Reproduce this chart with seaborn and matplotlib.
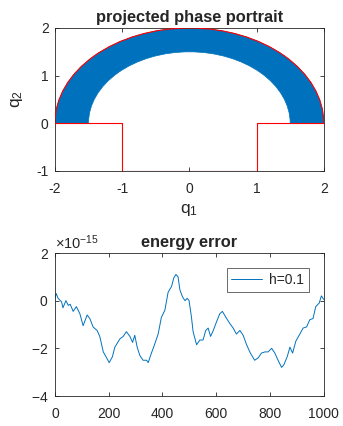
import numpy as np
import pandas as pd
import matplotlib
matplotlib.use("Agg")
import matplotlib.pyplot as plt
from matplotlib.patches import Wedge, Arc
from matplotlib.ticker import ScalarFormatter
import seaborn as sns

# ---- data ----
# constraint boundary (polyline part)
bound_x = [-2, -1, -1, 1, 1, 2]
bound_y = [0, 0, -1, -1, 0, 0]
arc_radius = 2.0          # outer semicircle of the constraint
band_outer = 2.0          # projected trajectory band
band_inner = 1.5

# energy error (units of 1e-15)
step = [0, 5, 12, 25, 30, 41, 50, 57, 68, 80, 93, 105, 120, 130, 142, 157, 167,
        180, 190, 202, 214, 223, 242, 254, 266, 279, 289, 297, 306, 316, 328,
        341, 347, 359, 372, 384, 396, 409, 421, 434, 442, 450, 458, 465, 475,
        484, 492, 499, 508, 514, 527, 539, 551, 561, 570, 579, 589, 599, 613,
        623, 636, 650, 663, 675, 688, 700, 713, 727, 743, 756, 768, 781, 793,
        806, 818, 830, 843, 851, 864, 874, 884, 896, 911, 923, 936, 948, 960,
        970, 983, 991, 1000]
err = [0.1, 0.3, 0.1, -0.05, -0.3, 0.0, -0.2, -0.15, -0.45, -0.25, -0.55, -1.05,
       -0.6, -0.75, -1.1, -1.25, -1.5, -2.15, -2.35, -2.6, -2.35, -1.95, -1.6,
       -1.5, -1.3, -1.5, -1.75, -1.45, -1.95, -2.3, -2.5, -2.5, -2.6, -2.2, -1.8,
       -1.4, -0.7, -0.4, 0.35, 0.6, 0.95, 1.1, 1.0, 0.45, 0.15, 0.0, 0.1, 0.0,
       -0.7, -1.3, -1.85, -1.65, -1.65, -1.25, -1.15, -1.5, -1.25, -0.95, -0.55,
       -0.45, -0.7, -0.95, -1.15, -1.4, -1.25, -1.45, -1.85, -2.2, -2.5, -2.4,
       -2.2, -2.15, -2.15, -2.0, -2.2, -2.5, -2.8, -2.7, -2.35, -1.95, -2.2,
       -1.7, -1.4, -1.15, -1.1, -0.8, -0.75, -0.25, -0.1, 0.2, 0.05]

# ---- style ----
sns.set_style("ticks")
plt.rcParams['font.family'] = ['Liberation Sans', 'DejaVu Sans']
plt.rcParams['axes.edgecolor'] = '#262626'
plt.rcParams['axes.linewidth'] = 0.6
plt.rcParams['xtick.color'] = '#262626'
plt.rcParams['ytick.color'] = '#262626'
plt.rcParams['xtick.direction'] = 'in'
plt.rcParams['ytick.direction'] = 'in'
plt.rcParams['mathtext.default'] = 'regular'
plt.rcParams['axes.unicode_minus'] = False

blue = '#0072BD'
fs_tick = 10
fig = plt.figure(figsize=(3.43, 4.26), dpi=100)
ax1 = fig.add_axes([0.160, 0.5986, 0.784, 0.3357])
ax2 = fig.add_axes([0.160, 0.0704, 0.784, 0.3357])

# ---- top panel ----
ax1.add_patch(Wedge((0, 0), band_outer, 0, 180, width=band_outer - band_inner,
                    facecolor=blue, edgecolor=blue, linewidth=0.5, zorder=2))
ax1.add_patch(Arc((0, 0), 2 * arc_radius, 2 * arc_radius, theta1=0, theta2=180,
                  color='red', linewidth=0.8, zorder=3))
df_b = pd.DataFrame({'x': bound_x, 'y': bound_y})
sns.lineplot(data=df_b, x='x', y='y', sort=False, estimator=None, color='red',
             linewidth=0.8, ax=ax1, zorder=3)
ax1.set_xlim(-2, 2)
ax1.set_ylim(-1, 2)
ax1.set_xticks([-2, -1, 0, 1, 2])
ax1.set_yticks([-1, 0, 1, 2])
ax1.set_xlabel('q$_1$', fontsize=12.5, labelpad=4)
ax1.set_ylabel('q$_2$', fontsize=12.5, labelpad=8)
ax1.set_title('projected phase portrait', fontsize=11.8, fontweight='bold', pad=4)

# ---- bottom panel ----
df_e = pd.DataFrame({'step': step, 'err': np.array(err) * 1e-15, 'h': 'h=0.1'})
sns.lineplot(data=df_e, x='step', y='err', hue='h', palette=[blue],
             estimator=None, sort=False, linewidth=0.7, ax=ax2)
ax2.set_xlim(0, 1000)
ax2.set_ylim(-4e-15, 2e-15)
ax2.set_xticks([0, 200, 400, 600, 800, 1000])
ax2.set_yticks([-4e-15, -2e-15, 0, 2e-15])
fmt = ScalarFormatter(useMathText=True)
fmt.set_powerlimits((0, 0))
ax2.yaxis.set_major_formatter(fmt)
ax2.yaxis.get_offset_text().set_fontsize(10.5)
ax2.yaxis.get_offset_text().set_color('#262626')
ax2.set_xlabel('')
ax2.set_ylabel('')
ax2.set_title('energy error', fontsize=11.8, fontweight='bold', pad=4)
leg = ax2.legend(loc='upper right', fontsize=fs_tick, frameon=True, fancybox=False,
                 handlelength=2.2, handletextpad=0.5, borderpad=0.35, borderaxespad=0,
                 bbox_to_anchor=(0.944, 0.895))
leg.get_frame().set_edgecolor('#262626')
leg.get_frame().set_linewidth(0.6)
leg.set_title(None)

for ax in (ax1, ax2):
    ax.tick_params(axis='both', which='both', labelsize=fs_tick, length=2.8,
                   width=0.6, top=True, right=True)
    ax.tick_params(axis='x', pad=8)
    ax.tick_params(axis='y', pad=4.5)
    for s in ax.spines.values():
        s.set_visible(True)

fig.savefig('out.png', dpi=100)
